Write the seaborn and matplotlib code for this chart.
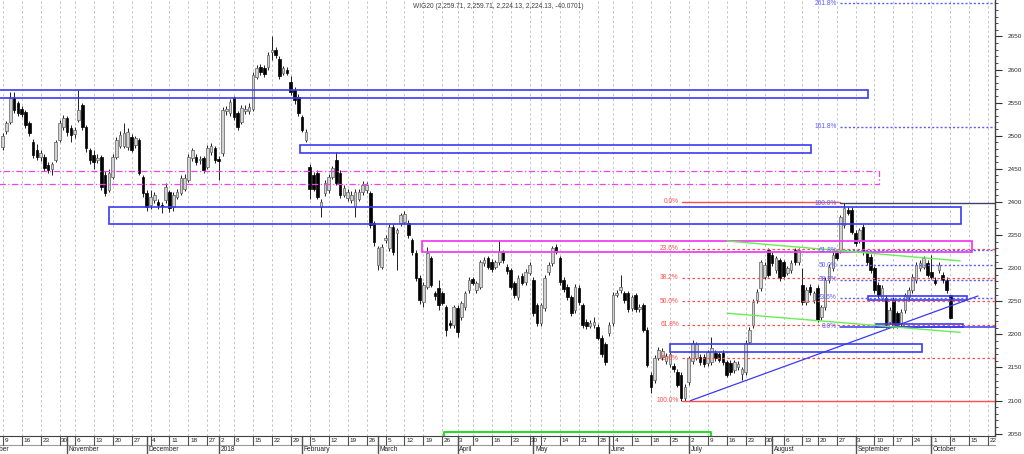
import matplotlib
matplotlib.use("Agg")
import numpy as np
import pandas as pd
import matplotlib.pyplot as plt
from matplotlib.patches import Rectangle
from matplotlib.ticker import MultipleLocator
import seaborn as sns

# -------------------------
# WIG20 daily candles, 9 Oct 2017 .. 8 Oct 2018
# -------------------------
first_day = "2017-10-09"
holidays = ["2017-11-01", "2017-12-25", "2017-12-26", "2018-01-01", "2018-03-30",
            "2018-04-02", "2018-05-01", "2018-05-03", "2018-05-31", "2018-08-15"]

opens = [
    2483, 2507, 2521, 2557, 2550, 2540, 2536, 2519, 2491, 2478,
    2468, 2468, 2456, 2450, 2463, 2494, 2513, 2527, 2512, 2502,
    2524, 2547, 2513, 2478, 2471, 2464, 2468, 2441, 2418, 2438,
    2468, 2485, 2485, 2483, 2498, 2486, 2494, 2438, 2413, 2395,
    2403, 2400, 2396, 2403, 2415, 2392, 2408, 2413, 2420, 2433,
    2466, 2468, 2463, 2466, 2453, 2475, 2481, 2465, 2474, 2537,
    2534, 2557, 2534, 2521, 2537, 2537, 2540, 2589, 2604, 2603,
    2604, 2627, 2630, 2616, 2595, 2600, 2581, 2569, 2559, 2528,
    2494, 2453, 2440, 2444, 2392, 2413, 2418, 2438, 2463, 2444,
    2411, 2406, 2403, 2392, 2405, 2415, 2418, 2413, 2368, 2305,
    2302, 2343, 2330, 2362, 2353, 2368, 2370, 2368, 2342, 2323,
    2285, 2249, 2272, 2315, 2262, 2270, 2262, 2241, 2217, 2214,
    2240, 2226, 2241, 2267, 2283, 2267, 2272, 2308, 2315, 2310,
    2302, 2309, 2324, 2302, 2297, 2277, 2256, 2288, 2279, 2293,
    2282, 2244, 2217, 2240, 2294, 2308, 2332, 2315, 2282, 2272,
    2256, 2237, 2270, 2244, 2219, 2213, 2214, 2211, 2195, 2185,
    2202, 2217, 2260, 2267, 2262, 2262, 2240, 2259, 2238, 2244,
    2207, 2139, 2131, 2165, 2166, 2160, 2155, 2153, 2143, 2139,
    2104, 2128, 2160, 2165, 2166, 2166, 2157, 2158, 2172, 2170,
    2172, 2158, 2157, 2146, 2150, 2140, 2143, 2189, 2214, 2252,
    2270, 2287, 2327, 2320, 2297, 2312, 2309, 2293, 2297, 2327,
    2309, 2275, 2249, 2272, 2252, 2270, 2226, 2241, 2282, 2300,
    2323, 2327, 2365, 2388, 2388, 2353, 2342, 2362, 2324, 2317,
    2300, 2275, 2255, 2255, 2219, 2252, 2232, 2217, 2237, 2256,
    2267, 2282, 2300, 2302, 2308, 2294, 2282, 2297, 2290, 2282,
    2259.71,
]
highs = [
    2504, 2523, 2566, 2566, 2553, 2545, 2539, 2522, 2495, 2488,
    2478, 2472, 2460, 2461, 2494, 2524, 2531, 2530, 2516, 2513,
    2569, 2550, 2516, 2481, 2478, 2472, 2471, 2446, 2450, 2472,
    2498, 2507, 2519, 2512, 2503, 2500, 2497, 2441, 2418, 2418,
    2415, 2404, 2400, 2428, 2418, 2415, 2419, 2440, 2442, 2472,
    2482, 2472, 2470, 2470, 2486, 2489, 2485, 2470, 2544, 2545,
    2555, 2560, 2538, 2546, 2546, 2550, 2596, 2607, 2608, 2607,
    2626, 2651, 2634, 2620, 2606, 2604, 2590, 2573, 2563, 2532,
    2510, 2457, 2445, 2448, 2404, 2433, 2442, 2455, 2475, 2448,
    2425, 2419, 2416, 2420, 2420, 2431, 2430, 2417, 2371, 2334,
    2336, 2350, 2366, 2366, 2361, 2384, 2386, 2372, 2346, 2327,
    2289, 2279, 2332, 2319, 2266, 2282, 2266, 2245, 2221, 2245,
    2244, 2251, 2266, 2286, 2287, 2281, 2313, 2317, 2319, 2314,
    2313, 2342, 2328, 2306, 2301, 2281, 2289, 2292, 2298, 2309,
    2286, 2248, 2248, 2290, 2309, 2334, 2336, 2319, 2286, 2276,
    2260, 2276, 2274, 2248, 2223, 2221, 2226, 2215, 2199, 2189,
    2218, 2264, 2267, 2290, 2266, 2266, 2260, 2263, 2246, 2248,
    2211, 2143, 2169, 2181, 2179, 2172, 2174, 2157, 2147, 2143,
    2125, 2168, 2191, 2189, 2170, 2170, 2177, 2196, 2176, 2174,
    2176, 2162, 2161, 2162, 2160, 2151, 2191, 2211, 2253, 2268,
    2313, 2309, 2330, 2324, 2319, 2316, 2313, 2304, 2312, 2331,
    2331, 2300, 2271, 2276, 2266, 2274, 2245, 2286, 2306, 2324,
    2327, 2381, 2398, 2392, 2392, 2357, 2361, 2366, 2328, 2321,
    2304, 2279, 2274, 2259, 2241, 2256, 2236, 2238, 2263, 2271,
    2291, 2309, 2312, 2319, 2312, 2320, 2286, 2309, 2294, 2286,
    2259.71,
]
lows = [
    2478, 2503, 2518, 2535, 2530, 2528, 2512, 2500, 2466, 2463,
    2462, 2447, 2444, 2441, 2460, 2490, 2508, 2500, 2490, 2497,
    2520, 2509, 2476, 2458, 2450, 2459, 2418, 2409, 2415, 2435,
    2465, 2481, 2481, 2479, 2475, 2482, 2440, 2408, 2386, 2390,
    2398, 2390, 2383, 2398, 2385, 2386, 2404, 2410, 2416, 2430,
    2462, 2456, 2458, 2444, 2450, 2471, 2459, 2433, 2470, 2532,
    2530, 2524, 2509, 2517, 2533, 2533, 2537, 2585, 2592, 2589,
    2600, 2615, 2618, 2586, 2591, 2591, 2562, 2548, 2530, 2505,
    2490, 2405, 2416, 2404, 2378, 2409, 2414, 2434, 2425, 2406,
    2407, 2402, 2399, 2377, 2401, 2411, 2414, 2360, 2334, 2297,
    2298, 2338, 2326, 2320, 2297, 2364, 2366, 2346, 2320, 2281,
    2246, 2241, 2268, 2271, 2252, 2237, 2244, 2197, 2210, 2210,
    2196, 2222, 2237, 2263, 2274, 2263, 2268, 2304, 2298, 2294,
    2298, 2305, 2308, 2291, 2268, 2255, 2252, 2274, 2275, 2289,
    2228, 2213, 2213, 2236, 2290, 2304, 2321, 2275, 2264, 2252,
    2228, 2233, 2245, 2210, 2208, 2209, 2210, 2191, 2166, 2154,
    2198, 2213, 2256, 2263, 2248, 2234, 2236, 2234, 2234, 2203,
    2150, 2111, 2127, 2161, 2162, 2156, 2151, 2143, 2120, 2100,
    2100, 2124, 2156, 2161, 2154, 2151, 2153, 2154, 2160, 2158,
    2154, 2135, 2139, 2142, 2146, 2131, 2139, 2185, 2210, 2248,
    2266, 2283, 2286, 2304, 2293, 2281, 2284, 2289, 2293, 2305,
    2305, 2245, 2244, 2260, 2248, 2218, 2222, 2237, 2278, 2296,
    2312, 2323, 2361, 2380, 2351, 2334, 2338, 2320, 2305, 2293,
    2263, 2255, 2251, 2210, 2215, 2210, 2210, 2213, 2233, 2252,
    2263, 2278, 2296, 2298, 2286, 2283, 2274, 2293, 2278, 2263,
    2224.13,
]
closes = [
    2500, 2519, 2557, 2539, 2534, 2533, 2516, 2504, 2471, 2468,
    2474, 2451, 2448, 2457, 2491, 2519, 2527, 2506, 2501, 2508,
    2539, 2513, 2481, 2463, 2461, 2467, 2423, 2413, 2444, 2468,
    2494, 2501, 2504, 2506, 2479, 2497, 2444, 2413, 2392, 2408,
    2411, 2396, 2394, 2423, 2391, 2411, 2415, 2436, 2436, 2468,
    2478, 2461, 2465, 2448, 2481, 2485, 2463, 2462, 2539, 2540,
    2551, 2528, 2513, 2542, 2541, 2544, 2592, 2602, 2596, 2593,
    2622, 2629, 2622, 2590, 2602, 2595, 2566, 2554, 2534, 2509,
    2506, 2420, 2420, 2408, 2400, 2429, 2438, 2451, 2429, 2411,
    2421, 2415, 2411, 2415, 2415, 2426, 2426, 2365, 2340, 2330,
    2332, 2346, 2362, 2324, 2357, 2380, 2382, 2350, 2324, 2285,
    2252, 2275, 2323, 2275, 2258, 2245, 2248, 2207, 2214, 2241,
    2204, 2247, 2262, 2282, 2278, 2277, 2309, 2312, 2302, 2298,
    2309, 2324, 2312, 2295, 2272, 2260, 2285, 2278, 2294, 2305,
    2232, 2217, 2244, 2285, 2305, 2330, 2325, 2279, 2268, 2256,
    2232, 2272, 2249, 2214, 2212, 2217, 2219, 2195, 2170, 2158,
    2214, 2260, 2263, 2272, 2252, 2238, 2256, 2238, 2242, 2207,
    2154, 2121, 2165, 2177, 2175, 2168, 2170, 2147, 2124, 2104,
    2121, 2164, 2187, 2185, 2158, 2155, 2173, 2180, 2164, 2162,
    2158, 2139, 2143, 2158, 2156, 2147, 2187, 2207, 2249, 2264,
    2309, 2305, 2290, 2308, 2315, 2285, 2288, 2300, 2308, 2309,
    2327, 2249, 2267, 2264, 2262, 2222, 2241, 2282, 2302, 2320,
    2316, 2377, 2391, 2384, 2355, 2338, 2357, 2324, 2309, 2297,
    2267, 2259, 2270, 2214, 2237, 2214, 2214, 2234, 2259, 2267,
    2287, 2305, 2308, 2315, 2290, 2287, 2278, 2305, 2282, 2267,
    2224.13,
]

# -------------------------
# drawings on the chart (x = trading days after 9 Oct 2017, y = index points)
# -------------------------
blue_x0 = [-2, 78.5, 28.1, 176.1, 228.3, 230.4]
blue_x1 = [228.3, 213.3, 252.8, 242.5, 254.4, 253.4]
blue_lo = [2557, 2474, 2367, 2173, 2252, 2211]
blue_hi = [2569, 2486, 2392, 2185, 2258, 2216]

pink_box = [110.6, 255.8, 2324, 2341]
pink_dashdot_box = [-2, 231.2, 2427, 2447]

trend_x = [181.5, 257.3]
trend_y = [2100, 2258]
green_top_x = [191.1, 252.6]
green_top_y = [2341, 2311]
green_low_x = [191.1, 252.6]
green_low_y = [2232, 2203]
green_base_x = [116.5, 116.5, 186.8, 186.8]
green_base_y = [2044, 2052.6, 2052.6, 2044]

red_fib_top, red_fib_bottom = 2400, 2100
red_fib_levels = [0, 23.6, 38.2, 50.0, 61.8, 78.6, 100.0]
red_fib_start = 179.2
blue_fib_bottom, blue_fib_top = 2211.5, 2398
blue_fib_levels = [0, 23.6, 38.2, 50.0, 61.8, 100.0, 161.8, 261.8]
blue_fib_start = 220.9

title = "WIG20 (2,259.71, 2,259.71, 2,224.13, 2,224.13, -40.0701)"

# -------------------------
# style
# -------------------------
sns.set_theme(style="white")
plt.rcParams["font.family"] = ["Liberation Sans", "DejaVu Sans"]
FS = 4.8
RED = "#ff4d4d"
BLUE = "#3a3af2"
LBLUE = "#5c5cff"

# trading calendar
days = pd.bdate_range("2017-10-02", "2018-10-31")
days = days[~days.isin(pd.to_datetime(holidays))]
pos = np.arange(len(days)) - days.get_loc(pd.Timestamp(first_day))
cal = pd.DataFrame({"pos": pos, "date": days})

o = np.array(opens, float)
h = np.array(highs, float)
l = np.array(lows, float)
c = np.array(closes, float)
x = np.arange(len(c))

XMIN, XMAX = -0.71, 261.8
YMIN, YMAX = 2046.5, 2705

fig = plt.figure(figsize=(10.24, 4.54), dpi=100)
ax = fig.add_axes([0, 0.0396, 0.9717, 0.9604])

# weekly grid
weeks = cal.groupby(cal.date.dt.strftime("%G-%V")).first()
weeks = weeks[(weeks.pos > XMIN) & (weeks.pos < XMAX)]
for p in weeks.pos:
    ax.axvline(p, color="#c6c6c6", lw=0.7, dashes=(2.5, 2.5), zorder=0)

# candles
up = c >= o
ax.vlines(x, l, h, colors="#202020", lw=0.7, zorder=2)
body_lo = np.minimum(o, c)
body_h = np.maximum(np.abs(c - o), 0.8)
ax.bar(x[up], body_h[up], bottom=body_lo[up], width=0.68, color="#d2d2d2",
       edgecolor="#6a6a6a", linewidth=0.55, zorder=3)
ax.bar(x[~up], body_h[~up], bottom=body_lo[~up], width=0.68, color="black",
       edgecolor="black", linewidth=0.5, zorder=3)

# boxes
for x0, x1, lo, hi in zip(blue_x0, blue_x1, blue_lo, blue_hi):
    ax.add_patch(Rectangle((x0, lo), x1 - x0, hi - lo, fill=False, ec=BLUE, lw=1.2, zorder=4))
x0, x1, lo, hi = pink_box
ax.add_patch(Rectangle((x0, lo), x1 - x0, hi - lo, fill=False, ec="#f040f0", lw=1.3, zorder=4))
x0, x1, lo, hi = pink_dashdot_box
ax.add_patch(Rectangle((x0, lo), x1 - x0, hi - lo, fill=False, ec="#f040f0", lw=0.9,
                       ls=(0, (5, 2, 1, 2)), zorder=4))

# fibonacci levels
for p in red_fib_levels:
    v = red_fib_top - p / 100 * (red_fib_top - red_fib_bottom)
    if p in (0, 100):
        end = blue_fib_start if p == 0 else XMAX
        ax.plot([red_fib_start, end], [v, v], color=RED, lw=1.0, zorder=4)
    else:
        ax.plot([red_fib_start, XMAX], [v, v], color=RED, lw=0.9, ls=(0, (2, 2)), zorder=4)
    ax.text(red_fib_start - 0.8, v, f"{p:.1f}%", color=RED, fontsize=FS,
            ha="right", va="center", zorder=5)

for p in blue_fib_levels:
    v = blue_fib_bottom + p / 100 * (blue_fib_top - blue_fib_bottom)
    if p == 0:
        ax.plot([blue_fib_start, XMAX], [v, v], color=BLUE, lw=1.1, zorder=4)
    elif p == 100:
        ax.plot([blue_fib_start, XMAX], [v, v], color="#404070", lw=1.0, zorder=4)
    else:
        ax.plot([blue_fib_start, XMAX], [v, v], color=LBLUE, lw=1.0, ls=(0, (1.5, 1.5)), zorder=4)
    ax.text(blue_fib_start - 0.8, v, f"{p:.1f}%", color=LBLUE, fontsize=FS,
            ha="right", va="center", zorder=5)

# trend lines
sns.lineplot(x=trend_x, y=trend_y, ax=ax, color=BLUE, lw=0.9, sort=False, estimator=None, zorder=4)
sns.lineplot(x=green_top_x, y=green_top_y, ax=ax, color="#66ee55", lw=1.0, sort=False, estimator=None, zorder=4)
sns.lineplot(x=green_low_x, y=green_low_y, ax=ax, color="#66ee55", lw=1.0, sort=False, estimator=None, zorder=4)
sns.lineplot(x=green_base_x, y=green_base_y, ax=ax, color="#22dd22", lw=1.4, sort=False, estimator=None, zorder=4)

# axes
ax.set_xlim(XMIN, XMAX)
ax.set_ylim(YMIN, YMAX)
ax.set_xlabel("")
ax.set_ylabel("")
ax.set_xticks([])
ax.yaxis.tick_right()
ax.set_yticks(range(2050, 2651, 50))
ax.yaxis.set_minor_locator(MultipleLocator(10))
ax.tick_params(axis="y", which="major", length=5, width=0.8, labelsize=4.6, pad=4,
               colors="#303030", direction="out", right=True)
ax.tick_params(axis="y", which="minor", length=2.5, width=0.6, colors="#303030",
               direction="out", right=True)
for s in ("top", "left"):
    ax.spines[s].set_visible(False)
ax.spines["right"].set_color("#404040")
ax.spines["right"].set_linewidth(1.0)
ax.spines["bottom"].set_color("#404040")
ax.spines["bottom"].set_linewidth(0.8)

# date rows under the chart
px = 1 / 436
trans = ax.get_xaxis_transform()
ax.plot([0, 1], [-9 * px, -9 * px], transform=ax.transAxes, color="#9a9a9a", lw=0.8, clip_on=False)
for p, d in zip(weeks.pos, weeks.date):
    ax.plot([p, p], [-9 * px, 0], transform=trans, color="#505050", lw=0.8, clip_on=False)
    ax.text(p + 0.45, -4.6 * px, str(d.day), transform=trans, fontsize=4.6, color="#202020",
            ha="left", va="center", clip_on=False)

months = cal.groupby(cal.date.dt.strftime("%Y-%m")).first()
months = months[months.pos < XMAX]
for p, d in zip(months.pos, months.date):
    name = str(d.year) if d.month == 1 else d.strftime("%B")
    ax.plot([p, p], [-18 * px, 0], transform=trans, color="#505050", lw=1.0, clip_on=False)
    ax.text(p + 0.45, -13.8 * px, name, transform=trans, fontsize=FS, color="#202020",
            ha="left", va="center", clip_on=False)

fig.text(413 / 1024, 1 - 6 / 454, title, fontsize=FS, color="#404040", ha="left", va="center")

fig.savefig("out.png", dpi=100)
